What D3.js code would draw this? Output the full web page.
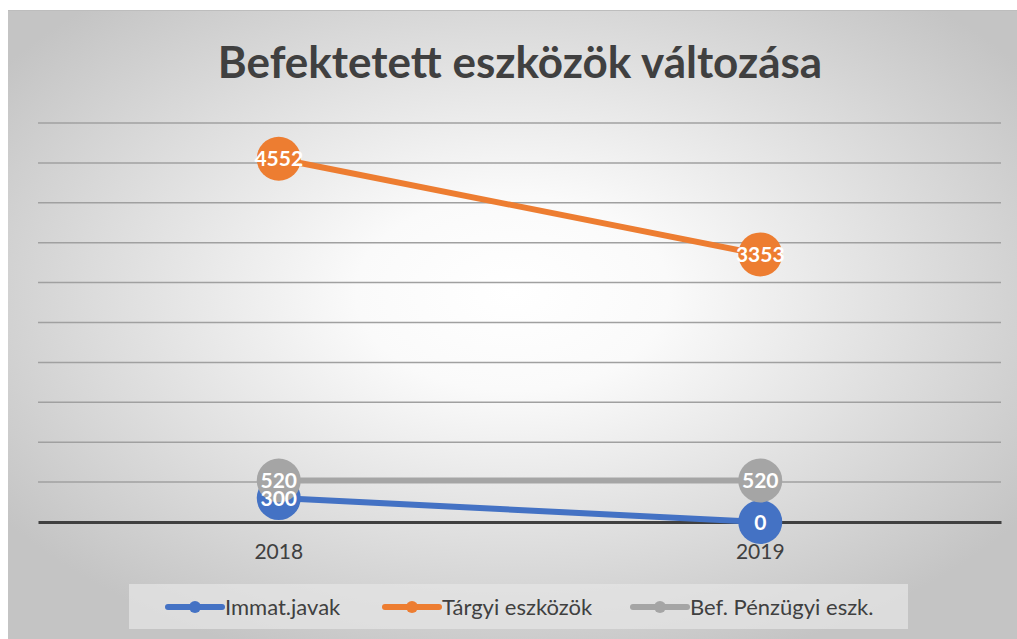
<!DOCTYPE html>
<html>
<head>
<meta charset="utf-8">
<script src="https://cdn.jsdelivr.net/npm/d3@7"></script>
<style>
  body { margin: 0; background: #fff; }
  text { font-family: Lato, "Open Sans", sans-serif; }
</style>
</head>
<body>
<div id="chart"></div>
<script>
// data
var years = ["2018", "2019"]
var seriesNames = ["Immat.javak", "Tárgyi eszközök", "Bef. Pénzügyi eszk."]
var immat = [300, 0]
var targyi = [4552, 3353]
var befPenz = [520, 520]
var colors = ["#4472C4", "#ED7D31", "#A5A5A5"]
var yTicks = d3.range(0, 5001, 500)

var width = 1017
    height = 639

var svg = d3.select("#chart")
    .append("svg")
        .attr("width", width)
        .attr("height", height)

// background with radial gradient
var defs = svg.append("defs")
var grad = defs.append("radialGradient")
    .attr("id", "bg")
    .attr("cx", "50%").attr("cy", "45%").attr("r", "62%")
grad.append("stop").attr("offset", "0%").attr("stop-color", "#ffffff")
grad.append("stop").attr("offset", "25%").attr("stop-color", "#fafafa")
grad.append("stop").attr("offset", "100%").attr("stop-color", "#c4c4c4")

svg.append("rect")
    .attr("x", 8).attr("y", 10)
    .attr("width", width - 8).attr("height", height - 10)
    .attr("fill", "url(#bg)")
svg.append("line")
    .attr("x1", 8).attr("x2", width).attr("y1", 10.5).attr("y2", 10.5)
    .attr("stroke", "#bdbdbd").attr("stroke-width", 1)

// title
svg.append("text")
    .attr("x", 520).attr("y", 78)
    .attr("text-anchor", "middle")
    .attr("font-size", "44px")
    .attr("font-weight", "bold")
    .attr("fill", "#404040")
    .text("Befektetett eszközök változása")

// scales
var x = d3.scaleBand()
    .domain(years)
    .range([38, 1001])
var y = d3.scaleLinear()
    .domain([0, 5000])
    .range([522, 123])

// gridlines
svg.append("g").selectAll("line")
    .data(yTicks.filter(function(d) { return d > 0 }))
    .enter()
    .append("line")
        .attr("x1", 38).attr("x2", 1001)
        .attr("y1", function(d) { return y(d) })
        .attr("y2", function(d) { return y(d) })
        .attr("stroke", "#a0a0a0")
        .attr("stroke-width", 1.5)

// x axis
var xAxis = svg.append("g")
    .attr("transform", "translate(0," + y(0) + ")")
    .call(d3.axisBottom(x).tickSize(0).tickPadding(22))
xAxis.select(".domain")
    .attr("stroke", "#404040")
    .attr("stroke-width", 3)
xAxis.selectAll("text")
    .attr("font-family", "Lato, sans-serif")
    .attr("font-size", "21px")
    .attr("fill", "#404040")

// series
var allSeries = [immat, targyi, befPenz]
var line = d3.line()
    .x(function(d, i) { return x(years[i]) + x.bandwidth() / 2 })
    .y(function(d) { return y(d) })

allSeries.forEach(function(vals, k) {
    svg.append("path")
        .datum(vals)
        .attr("d", line)
        .attr("fill", "none")
        .attr("stroke", colors[k])
        .attr("stroke-width", 6)
        .attr("stroke-linecap", "round")
    svg.append("g").selectAll("circle")
        .data(vals)
        .enter()
        .append("circle")
            .attr("cx", function(d, i) { return x(years[i]) + x.bandwidth() / 2 })
            .attr("cy", function(d) { return y(d) })
            .attr("r", 22)
            .attr("fill", colors[k])
})

// data labels
allSeries.forEach(function(vals, k) {
    svg.append("g").selectAll("text")
        .data(vals)
        .enter()
        .append("text")
            .attr("x", function(d, i) { return x(years[i]) + x.bandwidth() / 2 })
            .attr("y", function(d) { return y(d) })
            .attr("dy", "0.36em")
            .attr("text-anchor", "middle")
            .attr("font-size", "21px")
            .attr("font-weight", "bold")
            .attr("fill", "#ffffff")
            .text(function(d) { return d })
})

// legend
var legend = svg.append("g")
legend.append("rect")
    .attr("x", 129).attr("y", 584)
    .attr("width", 779).attr("height", 45)
    .attr("fill", "#e4e4e4")
    .attr("opacity", 0.75)

var legendX = [168, 385, 633]
seriesNames.forEach(function(name, k) {
    var lx = legendX[k]
    legend.append("line")
        .attr("x1", lx).attr("x2", lx + 54)
        .attr("y1", 607).attr("y2", 607)
        .attr("stroke", colors[k])
        .attr("stroke-width", 6)
        .attr("stroke-linecap", "round")
    legend.append("circle")
        .attr("cx", lx + 27).attr("cy", 607)
        .attr("r", 6)
        .attr("fill", colors[k])
    legend.append("text")
        .attr("x", lx + 57).attr("y", 607)
        .attr("dy", "0.36em")
        .attr("font-size", "22px")
        .attr("fill", "#404040")
        .text(name)
})
</script>
</body>
</html>
